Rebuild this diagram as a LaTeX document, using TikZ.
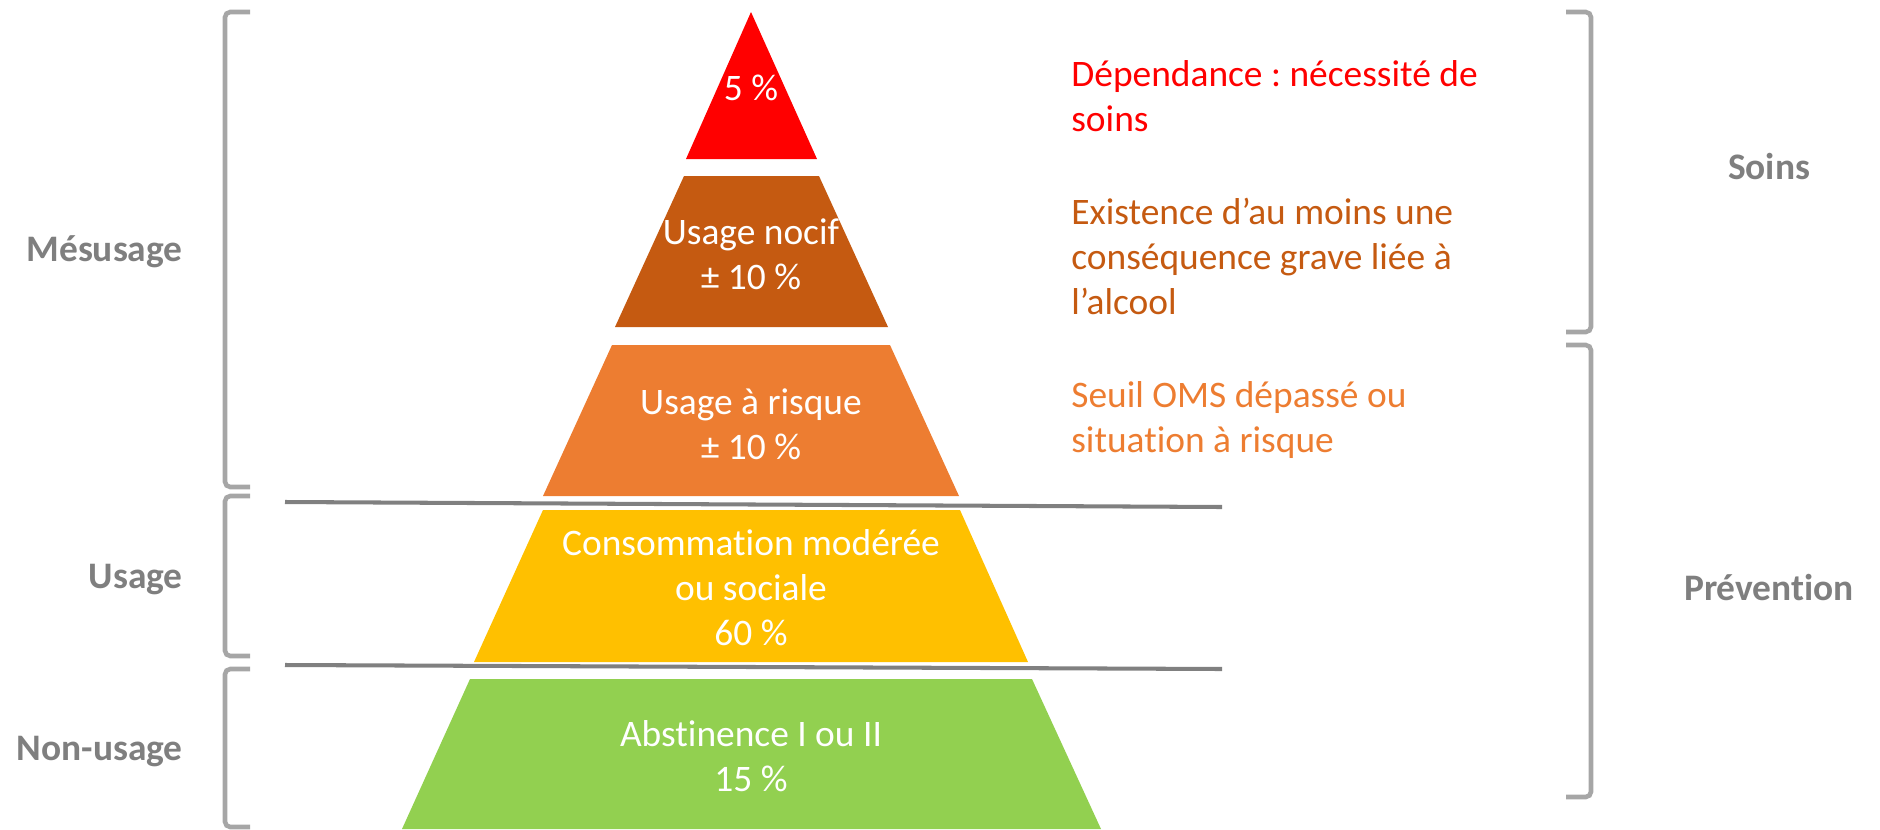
\documentclass[tikz,border=0pt]{standalone}
\usepackage{fontspec}
\setmainfont{Carlito}[Ligatures=NoCommon]
\frenchspacing
\usetikzlibrary{positioning}
\definecolor{soinred}{HTML}{FF0000}
\definecolor{nocifbrown}{HTML}{C55A11}
\definecolor{risqueorange}{HTML}{ED7D31}
\definecolor{usageyellow}{HTML}{FFC000}
\definecolor{abstgreen}{HTML}{92D050}
\definecolor{labelgray}{HTML}{7F7F7F}
\definecolor{bracegray}{HTML}{A6A6A6}
\definecolor{rulegray}{HTML}{808080}

\begin{document}
\begin{tikzpicture}[x=0.02cm, y=-0.02cm, every node/.style={inner sep=0pt}]
  % Define styles
  \tikzstyle{layertext} = [text=white, align=center, font=\fontsize{21.3}{25.6}\selectfont]
  \tikzstyle{note} = [anchor=west, align=left, font=\fontsize{21.3}{25.6}\selectfont]
  \tikzstyle{group} = [text=labelgray, font=\fontsize{21.3}{25.6}\selectfont\bfseries]
  \tikzstyle{brace} = [draw=bracegray, line width=2.6pt, rounded corners=3pt]
  \tikzstyle{rule} = [draw=rulegray, line width=2.3pt]

  \useasboundingbox (0,0) rectangle (1880,829);

  % Pyramid layers
  \fill[soinred] (751,12) -- (817,159) -- (686,159) -- cycle;
  \fill[nocifbrown] (684,176) -- (819,176) -- (888,327) -- (615,327) -- cycle;
  \fill[risqueorange] (612,345) -- (890,345) -- (959,496) -- (543,496) -- cycle;
  \fill[usageyellow] (543,510) -- (960,510) -- (1028,662) -- (474,662) -- cycle;
  \fill[abstgreen] (470,679) -- (1032,679) -- (1101,829) -- (402,829) -- cycle;

  % Separator lines
  \draw[rule] (285,502) -- (1222,507);
  \draw[rule] (285,665) -- (1222,669);

  % Brackets
  \draw[brace] (250,12) -- (225,12) -- (225,487) -- (250,487);
  \draw[brace] (250,496) -- (225,496) -- (225,656) -- (250,656);
  \draw[brace] (250,669) -- (225,669) -- (225,827) -- (250,827);
  \draw[brace] (1566,12) -- (1591,12) -- (1591,332) -- (1566,332);
  \draw[brace] (1566,345) -- (1591,345) -- (1591,797) -- (1566,797);

  % Place nodes
  \node[layertext] (dep) at (751,88) {5 \%};
  \node[layertext] (nocif) at (751,254) {Usage nocif\\± 10 \%};
  \node[layertext] (risque) at (751,424) {Usage à risque\\± 10 \%};
  \node[layertext] (modere) at (751,588) {Consommation modérée\\ou sociale\\60 \%};
  \node[layertext] (abst) at (751,756) {Abstinence I ou II\\15 \%};

  \node[note, text=soinred] (depnote) at (1071,96) {Dépendance : nécessité de\\soins};
  \node[note, text=nocifbrown] (nocifnote) at (1071,256) {Existence d’au moins une\\conséquence grave liée à\\l’alcool};
  \node[note, text=risqueorange] (risquenote) at (1071,420) {Seuil OMS dépassé ou\\situation à risque};

  \node[group, anchor=east] (mesusage) at (183,252) {Mésusage};
  \node[group, anchor=east] (usage) at (183,580) {Usage};
  \node[group, anchor=east] (nonusage) at (183,752) {Non-usage};
  \node[group] (soins) at (1769,167) {Soins};
  \node[group] (prevention) at (1769,587) {Prévention};
\end{tikzpicture}
\end{document}
